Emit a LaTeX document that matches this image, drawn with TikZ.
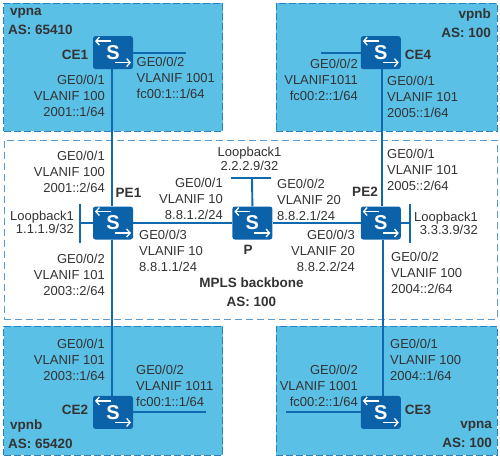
\documentclass[tikz,border=0pt]{standalone}
\usepackage{xcolor}
\usepackage{fontspec}
\setmainfont{Liberation Sans}
\usetikzlibrary{positioning, arrows.meta}
\definecolor{sitefill}{HTML}{5BC0E6}
\definecolor{sitedash}{HTML}{2A80BE}
\definecolor{coredash}{HTML}{5A9BCF}
\definecolor{swblue}{HTML}{0B62A9}
\definecolor{linkblue}{HTML}{1068AE}
\definecolor{labelgrey}{HTML}{333333}

\begin{document}
\begin{tikzpicture}[
    x=1pt, y=-1pt,
    site/.style={rectangle, draw=sitedash, fill=sitefill, dash pattern=on 7pt off 3pt, line width=0.8pt, minimum width=219pt, minimum height=128pt},
    core/.style={rectangle, draw=coredash, dash pattern=on 7pt off 4pt, line width=0.9pt, minimum width=493pt, minimum height=179pt},
    switch/.style={rectangle, rounded corners=2.5pt, fill=swblue, text=white, inner sep=0pt, minimum width=40pt, minimum height=33pt, font=\fontsize{20}{20}\selectfont\bfseries,
        path picture={
            \draw[white, line width=1.3pt, -{Straight Barb[length=3.5pt, width=8pt]}] ([shift={(-2,-11.5)}]path picture bounding box.center) -- ++(-16,0);
            \draw[white, line width=1.3pt, -{Straight Barb[length=3.5pt, width=8pt]}] ([shift={(2,10)}]path picture bounding box.center) -- ++(16,0);
        }},
    link/.style={draw=linkblue, line width=1.9pt},
    devname/.style={font=\fontsize{13.5}{19}\selectfont\bfseries, text=labelgrey, inner sep=0pt, align=center},
    ifleft/.style={font=\fontsize{13}{16}\selectfont, text=labelgrey, inner sep=0pt, anchor=east, align=right},
    ifright/.style={font=\fontsize{13}{16}\selectfont, text=labelgrey, inner sep=0pt, anchor=west, align=left}
]
    \useasboundingbox (0,0) rectangle (500,459);

    % Areas
    \node[core] (backbone) at (250.5,229.5) {};
    \node[site] (siteCE1) at (113,67) {};
    \node[site, minimum width=221pt] (siteCE4) at (386.5,67) {};
    \node[site, minimum height=129pt] (siteCE2) at (113,390.5) {};
    \node[site, minimum width=221pt, minimum height=129pt] (siteCE3) at (386.5,390.5) {};

    % Switches
    \node[switch] (PE1) at (113,223) {S};
    \node[switch, right=99pt of PE1] (P) {S};
    \node[switch, right=88pt of P] (PE2) {S};
    \node[switch, above=137pt of PE1] (CE1) {S};
    \node[switch, below=156pt of PE1] (CE2) {S};
    \node[switch, above=137pt of PE2] (CE4) {S};
    \node[switch, below=156pt of PE2] (CE3) {S};

    % Free ends
    \coordinate (stubCE1) at (186,53);
    \coordinate (stubCE4) at (321,53);
    \coordinate (stubCE2) at (206,412);
    \coordinate (stubCE3) at (286,412);
    \coordinate (loopPE1) at (80,223);
    \coordinate (loopPE2) at (410,223);
    \coordinate (loopP) at (252,178);

    % Links
    \draw[link] ([xshift=-1pt]CE1.south) -- ([xshift=-1pt]PE1.north);
    \draw[link] ([xshift=-1pt]PE1.south) -- ([xshift=-1pt]CE2.north);
    \draw[link] ([xshift=1pt]CE4.south) -- ([xshift=1pt]PE2.north);
    \draw[link] ([xshift=2pt]PE2.south) -- ([xshift=2pt]CE3.north);
    \draw[link] (PE1) -- (P);
    \draw[link] (P) -- (PE2);
    \draw[link] (CE1.east |- stubCE1) -- (stubCE1);
    \draw[link] (CE4.west |- stubCE4) -- (stubCE4);
    \draw[link] (CE2.east |- stubCE2) -- (stubCE2);
    \draw[link] (CE3.west |- stubCE3) -- (stubCE3);
    \draw[link] (PE1.west) -- (loopPE1);
    \draw[link] (PE2.east) -- (loopPE2);
    \draw[link] (P.north) -- (loopP);
    \draw[link] ([yshift=-20pt]loopPE1) -- ([yshift=19pt]loopPE1);
    \draw[link] ([yshift=-20pt]loopPE2) -- ([yshift=19pt]loopPE2);
    \draw[link] ([xshift=-21pt]loopP) -- ([xshift=19pt]loopP);

    % Device names
    \node[devname] (nameCE1) at (75,55) {CE1};
    \node[devname] (nameCE4) at (418,55) {CE4};
    \node[devname] (namePE1) at (128.5,193) {PE1};
    \node[devname] (namePE2) at (365,192) {PE2};
    \node[devname] (nameP) at (248,250) {P};
    \node[devname] (nameCE2) at (75,410) {CE2};
    \node[devname] (nameCE3) at (418,410) {CE3};
    \node[devname] (nameCore) at (251.5,292) {MPLS backbone\\AS: 100};

    % Site names
    \node[devname, anchor=north west, align=left] (nameA1) at (8,8.5) {\hspace*{2pt}vpna\\AS: 65410};
    \node[devname, anchor=north east, align=right] (nameB1) at (491,9) {vpnb\\AS: 100};
    \node[devname, anchor=north west, align=left] (nameB2) at (8,420) {\hspace*{2pt}vpnb\\AS: 65420};
    \node[devname, anchor=north east, align=right] (nameA2) at (492,421) {vpna\\AS: 100};

    % Interfaces
    \node[ifleft] (ifCE1a) at (105,96) {GE0/0/1\\VLANIF 100\\2001::1/64};
    \node[ifright] (ifCE1b) at (136.5,78) {GE0/0/2\\VLANIF 1001\\fc00:1::1/64};
    \node[ifleft] (ifCE4b) at (358,80) {GE0/0/2\\VLANIF1011\\fc00:2::1/64};
    \node[ifright] (ifCE4a) at (387,97) {GE0/0/1\\VLANIF 101\\2005::1/64};
    \node[ifleft] (ifPE1a) at (105,172) {GE0/0/1\\VLANIF 100\\2001::2/64};
    \node[ifright] (ifPE2a) at (387,170) {GE0/0/1\\VLANIF 101\\2005::2/64};
    \node[ifleft] (ifPa) at (223,199) {GE0/0/1\\VLANIF 10\\8.8.1.2/24};
    \node[ifright] (ifPb) at (277,200) {GE0/0/2\\VLANIF 20\\8.8.2.1/24};
    \node[ifright] (ifPE1c) at (139,251) {GE0/0/3\\VLANIF 10\\8.8.1.1/24};
    \node[ifleft] (ifPE2c) at (355,250.5) {GE0/0/3\\VLANIF 20\\8.8.2.2/24};
    \node[ifleft] (ifPE1b) at (105,275) {GE0/0/2\\VLANIF 101\\2003::2/64};
    \node[ifright] (ifPE2b) at (391,273) {GE0/0/2\\VLANIF 100\\2004::2/64};
    \node[ifleft] (ifCE2a) at (105,360) {GE0/0/1\\VLANIF 101\\2003::1/64};
    \node[ifright] (ifCE2b) at (136,386) {GE0/0/2\\VLANIF 1011\\fc00:1::1/64};
    \node[ifleft] (ifCE3b) at (358,386) {GE0/0/2\\VLANIF 1001\\fc00:2::1/64};
    \node[ifright] (ifCE3a) at (390,360) {GE0/0/1\\VLANIF 100\\2004::1/64};

    % Loopbacks
    \node[ifleft, font=\fontsize{13}{12}\selectfont] (lbPE1) at (74,222) {Loopback1\\1.1.1.9/32};
    \node[ifleft, font=\fontsize{13}{12}\selectfont] (lbPE2) at (478,223) {Loopback1\\3.3.3.9/32};
    \node[ifleft, anchor=center, align=center, font=\fontsize{13}{14}\selectfont] (lbP) at (249.5,159) {Loopback1\\2.2.2.9/32};
\end{tikzpicture}
\end{document}
